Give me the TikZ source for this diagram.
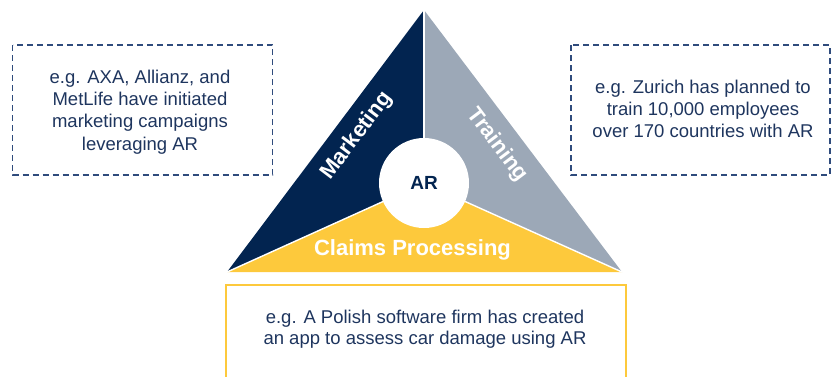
\documentclass[tikz,border=0pt]{standalone}
\usepackage{fontspec}
\setmainfont{Liberation Sans}
\definecolor{navy}{HTML}{022450}
\definecolor{slate}{HTML}{9CA8B7}
\definecolor{gold}{HTML}{FDC93C}
\definecolor{inktext}{HTML}{1E355E}
\definecolor{dashblue}{HTML}{2F4B7C}
\begin{document}
\begin{tikzpicture}[x=1pt,y=-1pt,
  exbox/.style={draw=dashblue,line width=1.6pt,dash pattern=on 6pt off 4pt},
  extext/.style={align=center,text=inktext,font=\fontsize{18.5}{22.3}\selectfont},
  seclabel/.style={text=white,font=\bfseries\fontsize{22}{25}\selectfont},
  sep/.style={draw=white,line width=1.4pt}]
\useasboundingbox (0,0) rectangle (833,376);
\coordinate (A) at (424,10);
\coordinate (B) at (227,272);
\coordinate (C) at (622,272);
\coordinate (O) at (424,183);
\fill[navy] (A) -- (B) -- (O) -- cycle;
\fill[slate] (A) -- (C) -- (O) -- cycle;
\fill[gold] (B) -- (C) -- (O) -- cycle;
\draw[sep] (O) -- (A);
\draw[sep] (O) -- (B);
\draw[sep] (O) -- (C);
\node[circle,fill=white,minimum size=90pt,inner sep=0pt] (hub) at (O) {};
\node[text=navy,font=\bfseries\fontsize{19}{22}\selectfont] (ar) at (hub.center) {AR};
\node[seclabel,rotate=53] (mk) at (357,136) {Marketing};
\node[seclabel,rotate=-53] (tr) at (497,145) {Training};
\node[seclabel] (cp) at (412.5,250) {Claims Processing};
\draw[exbox] (12.5,45) rectangle (272.5,175);
\node[extext] (lt) at (140,112) {e.g. AXA, Allianz, and\\MetLife have initiated\\marketing campaigns\\leveraging AR};
\draw[exbox] (571,45) rectangle (830,175);
\node[extext] (rt) at (703,109) {e.g. Zurich has planned to\\train 10,000 employees\\over 170 countries with AR};
\draw[draw=gold,line width=2pt] (226,285) rectangle (626,395);
\node[extext,font=\fontsize{18.5}{20.7}\selectfont] (bt) at (425,329) {e.g. A Polish software firm has created\\an app to assess car damage using AR};
\end{tikzpicture}
\end{document}
